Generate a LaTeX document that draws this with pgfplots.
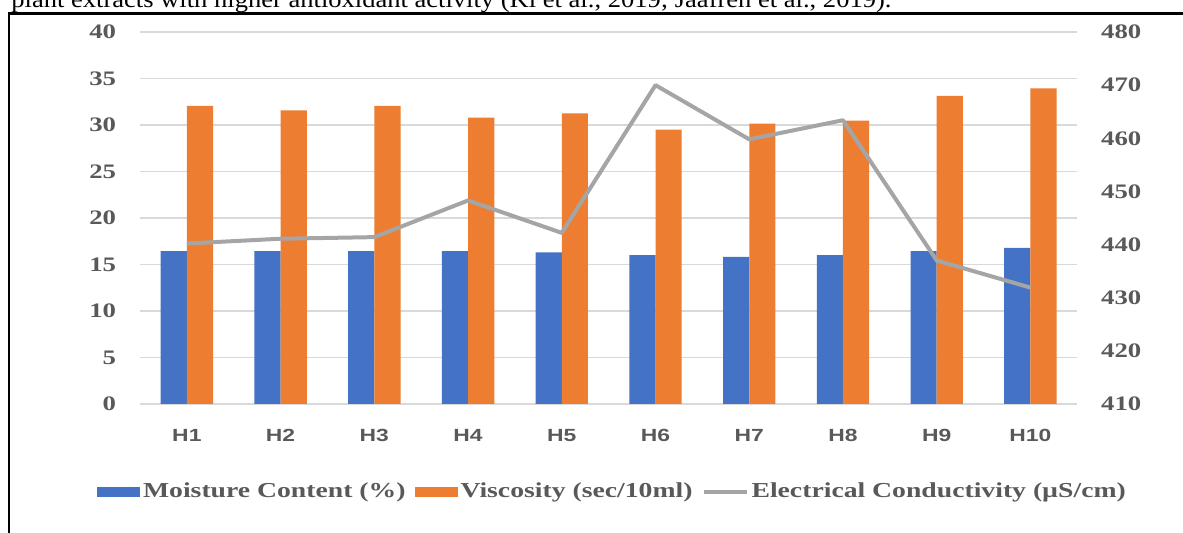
\documentclass[border=0pt]{standalone}
\usepackage{fontspec}
\usepackage{graphicx}
\usepackage{pgfplots}
\usepackage{pgfplotstable}
\pgfplotsset{compat=1.18}
\setmainfont{Liberation Serif}
\newfontfamily\chartserif[FakeStretch=1.3]{Liberation Serif}
\newfontfamily\chartsans[FakeStretch=1.3]{Liberation Sans}

\definecolor{mcblue}{HTML}{4472C4}
\definecolor{visorange}{HTML}{ED7D31}
\definecolor{ecgray}{HTML}{A5A5A5}
\definecolor{labelgray}{HTML}{595959}
\definecolor{gridgray}{HTML}{D9D9D9}

% honey samples H1..H10
\pgfplotstableread{
x  moisture viscosity ec
1  16.45    32.05      440.2
2  16.45    31.57      441.1
3  16.45    32.05      441.4
4  16.45    30.80      448.3
5  16.30    31.26      442.2
6  16.00    29.50      470.0
7  15.83    30.14      459.8
8  16.00    30.47      463.4
9  16.45    33.14      437.0
10 16.78    33.93      431.9
}\honeydata

\pgfplotsset{
  chartbase/.style={
    at={(70pt,64.5pt)}, anchor=south west, scale only axis,
    width=468.65pt, height=186pt,
    xmin=0.5, xmax=10.5,
    axis line style={draw=none}, major tick length=0pt,
    /pgf/number format/assume math mode=true,
    yticklabel style={font=\chartserif\bfseries\fontsize{10.3}{12}\selectfont, text=labelgray},
    yticklabel shift=8.4pt,
  },
}

\begin{document}
\begin{tikzpicture}
\useasboundingbox (0,0) rectangle (591.5pt,266.5pt);
\begin{scope}
  \clip (0,0) rectangle (591.5pt,266.5pt);
  \node[anchor=base west, inner sep=0pt, font=\fontsize{12}{14}\selectfont] at (5.5pt,262.85pt)
    {\resizebox{440pt}{\height}{plant extracts with higher antioxidant activity (Ki et al., 2019; Jaafreh et al., 2019).}};
  \draw[line width=1.1pt] (4.65pt,-2pt) -- (4.65pt,259.75pt) -- (600pt,259.75pt);
\end{scope}

\begin{axis}[
  chartbase,
  ymin=0, ymax=40, ytick distance=5,
  ybar=0pt, bar width=13.1pt,
  xtick={1,...,10},
  xticklabels={H1,H2,H3,H4,H5,H6,H7,H8,H9,H10},
  xticklabel style={font=\chartsans\bfseries\fontsize{8.8}{10}\selectfont, text=labelgray},
  xticklabel shift=9pt,
  ymajorgrids, grid style={gridgray, line width=0.75pt},
  legend columns=3,
  legend style={draw=none, fill=none, at={(0.5046,-0.236)}, anchor=center,
    font=\chartserif\bfseries\fontsize{10.65}{12}\selectfont, text=labelgray,
    nodes={inner xsep=1.5pt, inner ysep=0pt},
    /tikz/every even column/.append style={column sep=3pt}},
  legend cell align=left,
]
\addplot[fill=mcblue, draw=none,
  legend image code/.code={\fill[mcblue] (0pt,-2.5pt) rectangle (21.5pt,2.5pt);}]
  table[x=x, y=moisture]{\honeydata};
\addlegendentry{Moisture Content (\%)}
\addplot[fill=visorange, draw=none,
  legend image code/.code={\fill[visorange] (0pt,-2.5pt) rectangle (21.5pt,2.5pt);}]
  table[x=x, y=viscosity]{\honeydata};
\addlegendentry{Viscosity (sec/10ml)}
\addlegendimage{legend image code/.code={\draw[ecgray, line width=2pt] (0pt,0pt) -- (21.5pt,0pt);}}
\addlegendentry{Electrical Conductivity (µS/cm)}
\end{axis}

\begin{axis}[
  chartbase,
  ymin=410, ymax=480, ytick distance=10,
  axis x line=none, axis y line*=right,
]
\addplot[ecgray, line width=2pt, no markers, line join=round]
  table[x=x, y=ec]{\honeydata};
\end{axis}
\end{tikzpicture}
\end{document}
